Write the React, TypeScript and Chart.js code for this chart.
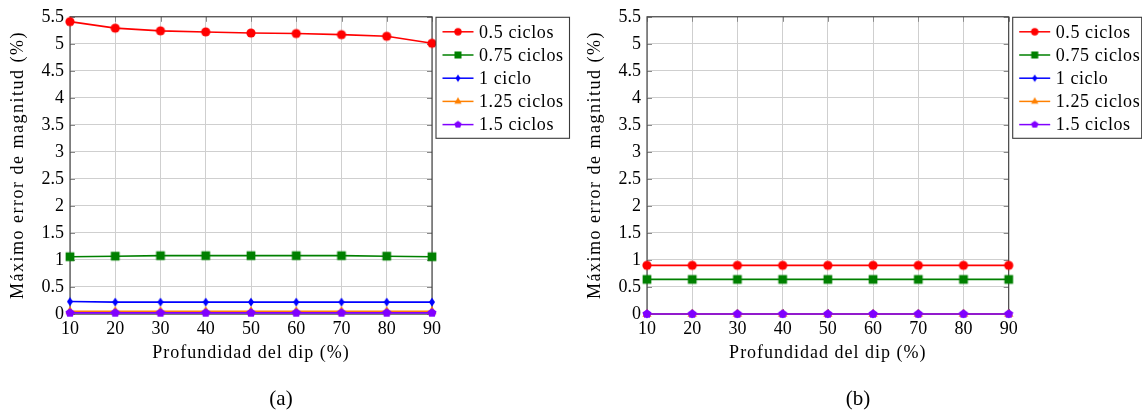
import React, { useEffect, useRef } from 'react';
import { Chart, registerables } from 'chart.js';

Chart.register(...registerables);

// Dip depth (%) on the x axis
const depth = [10, 20, 30, 40, 50, 60, 70, 80, 90];
const yTickValues = [0, 0.5, 1, 1.5, 2, 2.5, 3, 3.5, 4, 4.5, 5, 5.5];

const seriesNames = ['0.5 ciclos', '0.75 ciclos', '1 ciclo', '1.25 ciclos', '1.5 ciclos'];
const seriesColors = ['#ff0000', '#008000', '#0000ff', '#ff8000', '#8000ff'];
const seriesMarks = ['circle', 'square', 'diamond', 'triangle', 'pentagon'];

// Panel (a)
const errA_05 = [5.41, 5.29, 5.24, 5.22, 5.2, 5.19, 5.17, 5.14, 5.01];
const errA_075 = [1.06, 1.07, 1.08, 1.08, 1.08, 1.08, 1.08, 1.07, 1.06];
const errA_1 = [0.23, 0.22, 0.22, 0.22, 0.22, 0.22, 0.22, 0.22, 0.22];
const errA_125 = [0.05, 0.05, 0.05, 0.05, 0.05, 0.05, 0.05, 0.05, 0.05];
const errA_15 = [0.02, 0.02, 0.02, 0.02, 0.02, 0.02, 0.02, 0.02, 0.02];

// Panel (b)
const errB_05 = [0.9, 0.9, 0.9, 0.9, 0.9, 0.9, 0.9, 0.9, 0.9];
const errB_075 = [0.64, 0.64, 0.64, 0.64, 0.64, 0.64, 0.64, 0.64, 0.64];
const errB_1 = [0, 0, 0, 0, 0, 0, 0, 0, 0];
const errB_125 = [0, 0, 0, 0, 0, 0, 0, 0, 0];
const errB_15 = [0, 0, 0, 0, 0, 0, 0, 0, 0];

const xTitle = 'Profundidad del dip (%)';
const yTitle = 'Máximo error de magnitud (%)';

const FONT = '"Liberation Serif", "DejaVu Serif", serif';
const TEXT = '#000000';

function makeMarker(shape: string, color: string, r: number): HTMLCanvasElement {
  const s = Math.ceil(2 * r + 4);
  const c = document.createElement('canvas');
  c.width = s;
  c.height = s;
  const ctx = c.getContext('2d')!;
  const cx = s / 2;
  const cy = s / 2;
  ctx.fillStyle = color;
  ctx.beginPath();
  if (shape === 'circle') {
    ctx.arc(cx, cy, r, 0, Math.PI * 2);
  } else if (shape === 'square') {
    const h = r * 0.95;
    ctx.rect(cx - h, cy - h, 2 * h, 2 * h);
  } else if (shape === 'diamond') {
    const rr = r * 0.98;
    ctx.moveTo(cx, cy - rr);
    ctx.lineTo(cx + rr * 0.68, cy);
    ctx.lineTo(cx, cy + rr);
    ctx.lineTo(cx - rr * 0.68, cy);
  } else if (shape === 'triangle') {
    const rr = r * 1.15;
    ctx.moveTo(cx, cy - rr);
    ctx.lineTo(cx + rr * 0.866, cy + rr * 0.5);
    ctx.lineTo(cx - rr * 0.866, cy + rr * 0.5);
  } else {
    const rr = r * 1.04;
    for (let k = 0; k < 5; k++) {
      const a = -Math.PI / 2 + (k * 2 * Math.PI) / 5;
      const px = cx + rr * Math.cos(a);
      const py = cy + rr * Math.sin(a);
      if (k === 0) ctx.moveTo(px, py);
      else ctx.lineTo(px, py);
    }
  }
  ctx.closePath();
  ctx.fill();
  return c;
}

type PanelSpec = {
  canvasLeft: number;
  yAxisWidth: number;
  rightPad: number;
  yTitleX: number;
  legendWidth: number;
  caption: string;
  captionX: number;
  series: number[][];
};

const W = 571;
const H = 417;

function Panel({ spec }: { spec: PanelSpec }) {
  const ref = useRef<HTMLCanvasElement | null>(null);

  useEffect(() => {
    const canvas = ref.current;
    if (!canvas) return;
    const marks = seriesMarks.map((m, i) => makeMarker(m, seriesColors[i], 4.6));
    const legendMarks = seriesMarks.map((m, i) => makeMarker(m, seriesColors[i], 3.7));

    const frame = {
      id: 'frame',
      beforeDatasetsDraw(chart: any) {
        const { ctx, chartArea: a, scales } = chart;
        ctx.save();
        // short inner ticks on all four sides
        ctx.strokeStyle = '#8a8a8a';
        ctx.lineWidth = 1;
        ctx.beginPath();
        for (const v of depth) {
          const x = Math.round(scales.x.getPixelForValue(v)) + 0.5;
          ctx.moveTo(x, a.top);
          ctx.lineTo(x, a.top + 5);
          ctx.moveTo(x, a.bottom);
          ctx.lineTo(x, a.bottom - 5);
        }
        for (const v of yTickValues) {
          const y = Math.round(scales.y.getPixelForValue(v)) + 0.5;
          ctx.moveTo(a.left, y);
          ctx.lineTo(a.left + 5, y);
          ctx.moveTo(a.right, y);
          ctx.lineTo(a.right - 5, y);
        }
        ctx.stroke();
        ctx.strokeStyle = '#3a3a3a';
        ctx.lineWidth = 1.1;
        ctx.strokeRect(a.left, a.top, a.right - a.left, a.bottom - a.top);
        ctx.restore();
      },
      afterDraw(chart: any) {
        const { ctx, chartArea: a } = chart;
        ctx.save();
        ctx.fillStyle = TEXT;
        // axis titles
        ctx.font = `18px ${FONT}`;
        ctx.textAlign = 'center';
        ctx.textBaseline = 'middle';
        (ctx as any).letterSpacing = '1px';
        ctx.fillText(xTitle, (a.left + a.right) / 2, 353);
        ctx.save();
        (ctx as any).letterSpacing = '1.5px';
        ctx.translate(spec.yTitleX, 165);
        ctx.rotate(-Math.PI / 2);
        ctx.fillText(yTitle, 0, 0);
        ctx.restore();

        // caption
        (ctx as any).letterSpacing = '0px';
        ctx.font = `21px ${FONT}`;
        ctx.fillText(spec.caption, spec.captionX - spec.canvasLeft, 399);

        // legend box
        const lx = a.right + 4;
        const ly = a.top + 0.5;
        const lh = 121;
        ctx.fillStyle = '#ffffff';
        ctx.fillRect(lx, ly, spec.legendWidth, lh);
        ctx.strokeStyle = '#3a3a3a';
        ctx.lineWidth = 1.1;
        ctx.strokeRect(lx, ly, spec.legendWidth, lh);
        ctx.font = `18px ${FONT}`;
        ctx.textAlign = 'left';
        (ctx as any).letterSpacing = '0.6px';
        seriesNames.forEach((name, i) => {
          const cy = ly + 14.5 + i * 23.2;
          const x0 = lx + 6.5;
          const x1 = x0 + 31;
          ctx.strokeStyle = seriesColors[i];
          ctx.lineWidth = 1.5;
          ctx.beginPath();
          ctx.moveTo(x0, cy);
          ctx.lineTo(x1, cy);
          ctx.stroke();
          const m = legendMarks[i];
          ctx.drawImage(m, (x0 + x1) / 2 - m.width / 2, cy - m.height / 2);
          ctx.fillStyle = TEXT;
          ctx.fillText(name, x1 + 5.5, cy + 1);
        });
        ctx.restore();
      },
    };

    let chart: Chart | null = null;
    let cancelled = false;
    const build = () => {
      if (cancelled) return;
      chart = new Chart(canvas, {
        type: 'line',
        data: {
          datasets: spec.series.map((vals, i) => ({
            label: seriesNames[i],
            data: depth.map((d, k) => ({ x: d, y: vals[k] })),
            borderColor: seriesColors[i],
            backgroundColor: seriesColors[i],
            borderWidth: 1.6,
            pointStyle: marks[i] as any,
            pointRadius: 4,
            tension: 0,
            clip: false as any,
            order: seriesNames.length - i,
          })),
        },
        options: {
          responsive: false,
          animation: false,
          events: [],
          layout: { padding: { left: 0, top: 14, right: spec.rightPad, bottom: H - 314 - 50 } },
          plugins: { legend: { display: false }, tooltip: { enabled: false } },
          scales: {
            x: {
              type: 'linear',
              min: 10,
              max: 90,
              afterFit: (s: any) => {
                s.height = 50;
              },
              afterBuildTicks: (s: any) => {
                s.ticks = depth.map((v) => ({ value: v }));
              },
              ticks: {
                autoSkip: false,
                maxRotation: 0,
                padding: 4,
                color: TEXT,
                font: { family: FONT, size: 18 },
                callback: (v: any) => String(v),
              },
              grid: { color: '#cfcfcf', lineWidth: 1, drawTicks: false },
              border: { display: false },
            },
            y: {
              type: 'linear',
              min: 0,
              max: 5.5,
              afterFit: (s: any) => {
                s.width = spec.yAxisWidth;
              },
              afterBuildTicks: (s: any) => {
                s.ticks = yTickValues.map((v) => ({ value: v }));
              },
              ticks: {
                autoSkip: false,
                padding: 6,
                color: TEXT,
                font: { family: FONT, size: 18 },
                callback: (v: any) => String(Number(Number(v).toFixed(1))),
              },
              grid: { color: '#cfcfcf', lineWidth: 1, drawTicks: false },
              border: { display: false },
            },
          },
        },
        plugins: [frame],
      });
    };
    const fonts: any = (document as any).fonts;
    if (fonts && fonts.load) {
      Promise.all([fonts.load(`18px "Liberation Serif"`), fonts.load(`21px "Liberation Serif"`)])
        .catch(() => null)
        .then(build);
    } else {
      build();
    }
    return () => {
      cancelled = true;
      if (chart) chart.destroy();
    };
  }, [spec]);

  return (
    <canvas
      ref={ref}
      width={W}
      height={H}
      style={{ position: 'absolute', left: spec.canvasLeft, top: 0, width: W, height: H }}
    />
  );
}

const panelA: PanelSpec = {
  canvasLeft: 0,
  yAxisWidth: 70,
  rightPad: W - 432,
  yTitleX: 18.5,
  legendWidth: 133.5,
  caption: '(a)',
  captionX: 281,
  series: [errA_05, errA_075, errA_1, errA_125, errA_15],
};

const panelB: PanelSpec = {
  canvasLeft: 571,
  yAxisWidth: 76,
  rightPad: W - 437.7,
  yTitleX: 24,
  legendWidth: 129,
  caption: '(b)',
  captionX: 858,
  series: [errB_05, errB_075, errB_1, errB_125, errB_15],
};

export default function App() {
  return (
    <div style={{ position: 'absolute', left: 0, top: 0, width: 1142, height: 417, background: '#fff' }}>
      <Panel spec={panelA} />
      <Panel spec={panelB} />
    </div>
  );
}
